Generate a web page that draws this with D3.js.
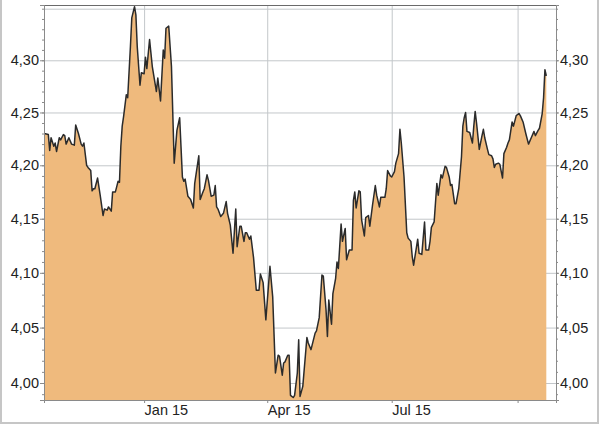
<!DOCTYPE html>
<html>
<head>
<meta charset="utf-8">
<script src="https://cdn.jsdelivr.net/npm/d3@7"></script>
<style>
  body { margin: 0; background: #fff; }
  svg { display: block; font-family: "Liberation Sans", Arial, sans-serif; }
</style>
</head>
<body>
<script>
var svgWidth = 600
var svgHeight = 424

var Margin = {top: 5, right: 44, bottom: 24, left: 44};
var chartWidth = svgWidth - Margin.left - Margin.right;
var chartHeight = svgHeight - Margin.top - Margin.bottom;

// daily closes
var dates = [
  "2014-10-20","2014-10-23","2014-10-24","2014-10-25","2014-10-27","2014-10-28","2014-10-29","2014-10-31",
  "2014-11-01","2014-11-03","2014-11-04","2014-11-05","2014-11-07","2014-11-09","2014-11-11","2014-11-12",
  "2014-11-14","2014-11-16","2014-11-17","2014-11-18","2014-11-20","2014-11-21","2014-11-23","2014-11-24",
  "2014-11-25","2014-11-26","2014-11-28","2014-11-30","2014-12-02","2014-12-03","2014-12-05","2014-12-06",
  "2014-12-08","2014-12-09","2014-12-11","2014-12-12","2014-12-13","2014-12-14","2014-12-15","2014-12-16",
  "2014-12-17","2014-12-19","2014-12-20","2014-12-22","2014-12-23","2014-12-25","2014-12-26","2014-12-27",
  "2014-12-29","2014-12-30","2015-01-01","2015-01-02","2015-01-03","2015-01-05","2015-01-06","2015-01-07",
  "2015-01-10","2015-01-11","2015-01-13","2015-01-15","2015-01-16","2015-01-17","2015-01-19","2015-01-21",
  "2015-01-23","2015-01-25","2015-01-27","2015-01-29","2015-01-30","2015-01-31","2015-02-02","2015-02-04",
  "2015-02-06","2015-02-07","2015-02-10","2015-02-11","2015-02-13","2015-02-14","2015-02-16","2015-02-17",
  "2015-02-19","2015-02-21","2015-02-22","2015-02-23","2015-02-24","2015-02-26","2015-02-28","2015-03-02",
  "2015-03-03","2015-03-05","2015-03-07","2015-03-09","2015-03-10","2015-03-12","2015-03-13","2015-03-15",
  "2015-03-16","2015-03-17","2015-03-19","2015-03-20","2015-03-22","2015-03-24","2015-03-26","2015-03-27",
  "2015-03-29","2015-03-31","2015-04-03","2015-04-05","2015-04-07","2015-04-09","2015-04-10","2015-04-12",
  "2015-04-13","2015-04-14","2015-04-16","2015-04-17","2015-04-18","2015-04-20","2015-04-21","2015-04-23",
  "2015-04-24","2015-04-25","2015-04-27","2015-04-30","2015-05-01","2015-05-03","2015-05-06","2015-05-07",
  "2015-05-09","2015-05-11","2015-05-12","2015-05-14","2015-05-15","2015-05-16","2015-05-18","2015-05-19",
  "2015-05-21","2015-05-22","2015-05-23","2015-05-25","2015-05-26","2015-05-28","2015-05-29","2015-05-31",
  "2015-06-02","2015-06-03","2015-06-04","2015-06-05","2015-06-07","2015-06-08","2015-06-09","2015-06-11",
  "2015-06-12","2015-06-14","2015-06-15","2015-06-17","2015-06-19","2015-06-20","2015-06-22","2015-06-23",
  "2015-06-26","2015-06-27","2015-06-28","2015-06-30","2015-07-01","2015-07-03","2015-07-04","2015-07-06",
  "2015-07-07","2015-07-08","2015-07-10","2015-07-12","2015-07-13","2015-07-15","2015-07-16","2015-07-17",
  "2015-07-19","2015-07-20","2015-07-21","2015-07-23","2015-07-25","2015-07-26","2015-07-28","2015-07-29",
  "2015-07-30","2015-08-01","2015-08-03","2015-08-04","2015-08-06","2015-08-07","2015-08-09","2015-08-10",
  "2015-08-12","2015-08-13","2015-08-14","2015-08-16","2015-08-17","2015-08-19","2015-08-21","2015-08-22",
  "2015-08-23","2015-08-24","2015-08-25","2015-08-27","2015-08-29","2015-08-30","2015-08-31","2015-09-01",
  "2015-09-03","2015-09-05","2015-09-06","2015-09-07","2015-09-09","2015-09-10","2015-09-12","2015-09-13",
  "2015-09-14","2015-09-15","2015-09-17","2015-09-18","2015-09-20","2015-09-21","2015-09-23","2015-09-24",
  "2015-09-25","2015-09-27","2015-09-28","2015-09-30","2015-10-02","2015-10-03","2015-10-05","2015-10-07",
  "2015-10-09","2015-10-11","2015-10-13","2015-10-14","2015-10-16","2015-10-17","2015-10-19","2015-10-20",
  "2015-10-21","2015-10-22"
];

var values = [
  4.230,4.229,4.214,4.226,4.218,4.221,4.213,4.226,
  4.224,4.229,4.228,4.220,4.226,4.220,4.219,4.238,
  4.230,4.220,4.218,4.221,4.200,4.198,4.195,4.176,
  4.178,4.178,4.188,4.171,4.153,4.159,4.158,4.161,
  4.157,4.175,4.175,4.180,4.185,4.184,4.218,4.237,
  4.246,4.267,4.264,4.313,4.341,4.352,4.344,4.313,
  4.276,4.288,4.287,4.303,4.292,4.320,4.307,4.294,
  4.270,4.283,4.261,4.310,4.302,4.331,4.333,4.294,
  4.202,4.233,4.245,4.189,4.185,4.187,4.171,4.168,
  4.160,4.183,4.209,4.168,4.175,4.178,4.191,4.186,
  4.171,4.172,4.181,4.161,4.159,4.152,4.155,4.166,
  4.155,4.144,4.118,4.159,4.124,4.143,4.143,4.129,
  4.137,4.137,4.131,4.134,4.114,4.084,4.084,4.099,
  4.091,4.057,4.106,4.078,4.009,4.025,4.024,4.007,
  4.018,4.019,4.025,4.025,3.989,3.987,3.989,4.009,
  4.039,3.988,3.997,4.041,4.036,4.030,4.045,4.047,
  4.059,4.098,4.097,4.066,4.042,4.075,4.053,4.081,
  4.095,4.110,4.104,4.145,4.129,4.141,4.112,4.121,
  4.121,4.167,4.175,4.160,4.176,4.175,4.149,4.134,
  4.151,4.153,4.143,4.163,4.181,4.172,4.161,4.170,
  4.170,4.178,4.195,4.190,4.189,4.194,4.202,4.211,
  4.234,4.221,4.189,4.137,4.132,4.129,4.115,4.107,
  4.123,4.131,4.118,4.117,4.147,4.121,4.121,4.129,
  4.142,4.147,4.183,4.172,4.191,4.188,4.199,4.198,
  4.189,4.181,4.182,4.164,4.164,4.178,4.208,4.237,
  4.245,4.250,4.232,4.231,4.221,4.237,4.251,4.240,
  4.215,4.228,4.234,4.226,4.215,4.210,4.209,4.206,
  4.198,4.201,4.202,4.201,4.188,4.211,4.217,4.221,
  4.224,4.241,4.237,4.247,4.249,4.247,4.241,4.230,
  4.220,4.226,4.232,4.228,4.233,4.235,4.249,4.264,
  4.291,4.285
];

var yTicks = [4.00, 4.05, 4.10, 4.15, 4.20, 4.25, 4.30];
var yGrid = [4.00, 4.05, 4.10, 4.15, 4.20, 4.25, 4.30, 4.35];
var xTicks = ["2015-01-01", "2015-04-01", "2015-07-01", "2015-10-01"];

var parseDate = d3.timeParse("%Y-%m-%d");
var data = dates.map(function(d, i) { return {date: parseDate(d), value: values[i]}; });

var deFormat = d3.formatLocale({decimal: ",", thousands: ".", grouping: [3], currency: ["", ""]}).format(".2f");
var monthFormat = d3.timeFormat("%b %y");

var svg = d3.select("body").append("svg")
  .attr("width", svgWidth)
  .attr("height", svgHeight);

svg.append("rect")
  .attr("x", 1).attr("y", -5)
  .attr("width", 597).attr("height", 428)
  .attr("fill", "none")
  .attr("stroke", "#c6c6c6")
  .attr("stroke-width", 2);

var chartGroup = svg.append("g")
  .attr("transform", `translate(${Margin.left}, ${Margin.top})`);

var xScale = d3.scaleTime()
  .domain([new Date(2014, 9, 19, 20), new Date(2015, 9, 29, 2)])
  .range([0, chartWidth]);

var yScale = d3.scaleLog()
  .domain([3.9848, 4.3536])
  .range([chartHeight, 0]);

// grid
chartGroup.append("g")
  .attr("class", "grid")
  .call(d3.axisLeft(yScale).tickValues(yGrid).tickSize(-chartWidth).tickFormat(""))
  .call(g => g.select(".domain").remove())
  .call(g => g.selectAll("line").attr("stroke", "#c3c7ca"));

chartGroup.append("g")
  .attr("class", "grid")
  .attr("transform", `translate(0, ${chartHeight})`)
  .call(d3.axisBottom(xScale).tickValues(xTicks.map(parseDate)).tickSize(-chartHeight).tickFormat(""))
  .call(g => g.select(".domain").remove())
  .call(g => g.selectAll("line").attr("stroke", "#c3c7ca"));

// area + line
var area = d3.area()
  .x(d => xScale(d.date))
  .y0(chartHeight)
  .y1(d => yScale(d.value));

var line = d3.line()
  .x(d => xScale(d.date))
  .y(d => yScale(d.value));

chartGroup.append("path")
  .datum(data)
  .attr("fill", "#efba7d")
  .attr("d", area);

chartGroup.append("path")
  .datum(data)
  .attr("fill", "none")
  .attr("stroke", "#2b2b2b")
  .attr("stroke-width", 1.5)
  .attr("stroke-linejoin", "round")
  .attr("d", line);

// frame top
chartGroup.append("line")
  .attr("x1", 0).attr("x2", chartWidth)
  .attr("y1", 0.5).attr("y2", 0.5)
  .attr("stroke", "#6a6a6a");

var minorTicks = d3.range(399, 436).map(v => v / 100);

function styleAxis(g) {
  g.select(".domain").attr("stroke", "#8a8a8a");
  g.selectAll("line").attr("stroke", "#8a8a8a");
  g.selectAll("text").attr("fill", "#222").attr("font-size", "14.5px")
    .attr("font-family", "'Liberation Sans', Arial, sans-serif");
}

// left axis
chartGroup.append("g")
  .call(d3.axisLeft(yScale).tickValues(minorTicks).tickSize(2).tickFormat(""))
  .call(styleAxis);
chartGroup.append("g")
  .call(d3.axisLeft(yScale).tickValues(yTicks).tickSize(4).tickPadding(1).tickFormat(deFormat))
  .call(styleAxis);

// right axis
chartGroup.append("g")
  .attr("transform", `translate(${chartWidth}, 0)`)
  .call(d3.axisRight(yScale).tickValues(minorTicks).tickSize(2).tickFormat(""))
  .call(styleAxis);
chartGroup.append("g")
  .attr("transform", `translate(${chartWidth}, 0)`)
  .call(d3.axisRight(yScale).tickValues(yTicks).tickSize(3).tickPadding(1).tickFormat(deFormat))
  .call(styleAxis);

// bottom axis, labels start at the tick, hidden if they would run past the frame
chartGroup.append("g")
  .attr("transform", `translate(0, ${chartHeight})`)
  .call(d3.axisBottom(xScale).tickValues(xTicks.map(parseDate)).tickSize(3)
    .tickFormat(d => xScale(d) + 46 > chartWidth ? "" : monthFormat(d)))
  .call(styleAxis)
  .call(g => g.selectAll("text").attr("text-anchor", "start").attr("x", 0).attr("y", 5));
</script>
</body>
</html>
